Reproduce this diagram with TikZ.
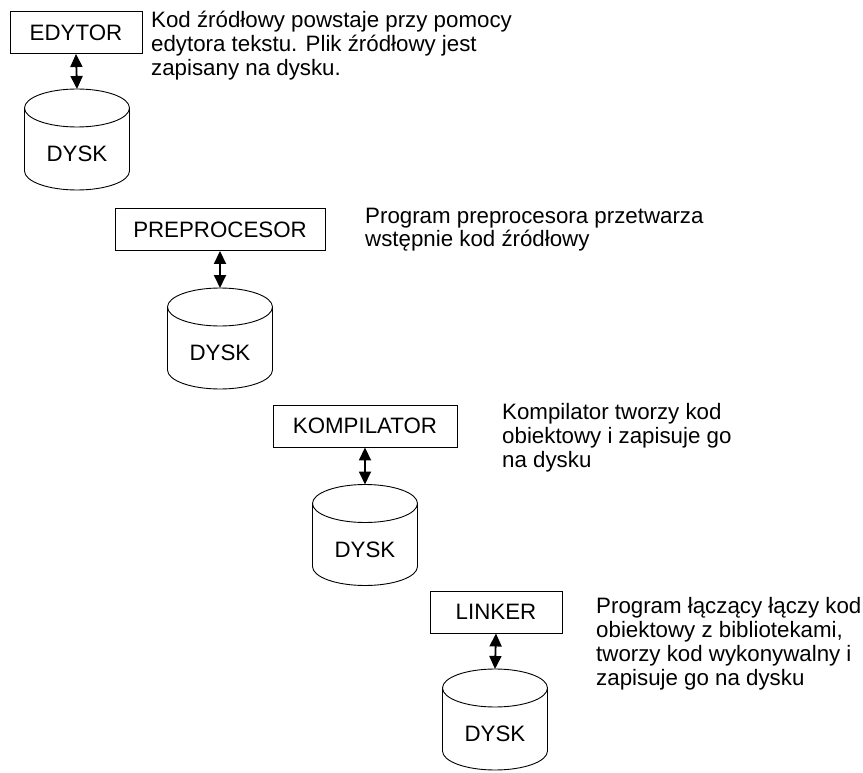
\documentclass[tikz,border=0pt]{standalone}
\usepackage{fontspec}
\setmainfont{Liberation Sans}
\usetikzlibrary{arrows.meta}

% one disk: name, x of axis, y of the top rim's centre (y grows downwards)
\newcommand\drawdisk[3]{%
  \draw[diskline] (#2-52.5,#3) -- (#2-52.5,#3+63)
    arc[start angle=180,end angle=360,x radius=52.5pt,y radius=19pt]
    -- (#2+52.5,#3);
  \draw[diskline] (#2,#3) ellipse[x radius=52.5pt,y radius=19pt];
  \coordinate (#1-top) at (#2,#3-19);
  \node[disklabel] (#1) at (#2,#3+46) {DYSK};
}

\begin{document}
\begin{tikzpicture}[x=1pt,y=-1pt,
  every node/.style={font=\fontsize{22.3}{24}\selectfont},
  stage/.style={draw,line width=0.9pt,minimum height=42pt,inner sep=0pt},
  diskline/.style={line width=0.9pt},
  disklabel/.style={inner sep=0pt},
  % anchored at the baseline of the last line
  note/.style={anchor=base west,align=left,inner sep=0pt},
  link/.style={line width=1.8pt,
    {Triangle[length=13pt,width=12pt]}-{Triangle[length=13pt,width=12pt]}}]
  \useasboundingbox (0,0) rectangle (863,773);

  % editor
  \node[stage,minimum width=132pt] (edytor) at (76,32.5) {EDYTOR};
  \drawdisk{d1}{77}{108}
  \draw[link] (edytor.south) -- (d1-top);
  \node[note] (t1) at (151,76)
    {Kod źródłowy powstaje przy pomocy\\edytora tekstu. Plik źródłowy jest\\zapisany na dysku.};

  % preprocessor
  \node[stage,minimum width=210pt] (prep) at (220,229.5) {PREPROCESOR};
  \drawdisk{d2}{220}{307}
  \draw[link] (prep.south) -- (d2-top);
  \node[note] (t2) at (365,247)
    {Program preprocesora przetwarza\\wstępnie kod źródłowy};

  % compiler
  \node[stage,minimum width=184pt] (komp) at (365,426) {KOMPILATOR};
  \drawdisk{d3}{365}{503.5}
  \draw[link] (komp.south) -- (d3-top);
  \node[note] (t3) at (502,467)
    {Kompilator tworzy kod\\obiektowy i zapisuje go\\na dysku};

  % linker
  \node[stage,minimum width=132pt] (linker) at (496,612) {LINKER};
  \drawdisk{d4}{495}{688}
  \draw[link] (linker.south) -- (d4-top);
  \node[note] (t4) at (596,685)
    {Program łączący łączy kod\\obiektowy z bibliotekami,\\tworzy kod wykonywalny i\\zapisuje go na dysku};
\end{tikzpicture}
\end{document}
